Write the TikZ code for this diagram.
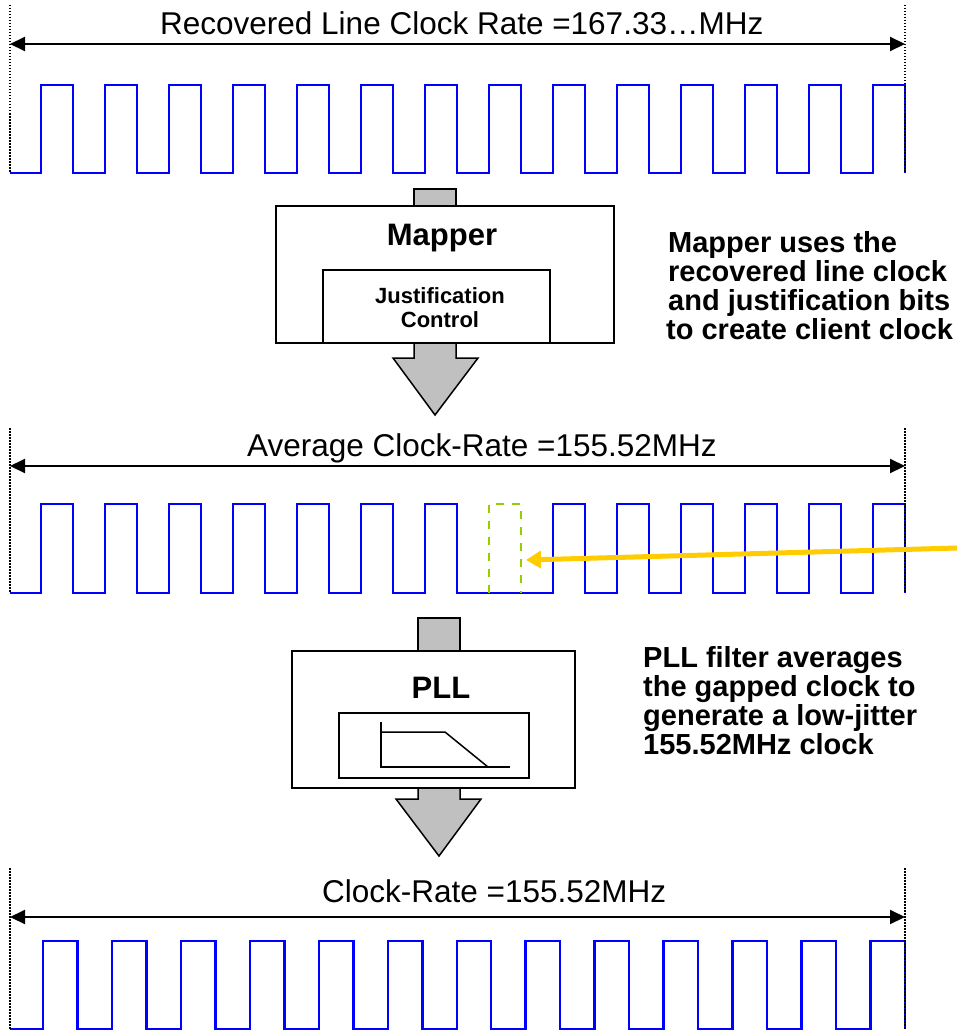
\documentclass[tikz,border=0pt]{standalone}
\usepackage{fontspec}
\setmainfont{Liberation Sans}
\usetikzlibrary{arrows.meta}
\definecolor{wavecol}{RGB}{0,0,255}
\definecolor{blockgray}{RGB}{192,192,192}
\definecolor{gapgreen}{RGB}{153,204,0}
\definecolor{pointercol}{RGB}{255,204,0}

\begin{document}
\begin{tikzpicture}[x=1pt,y=-1pt,
  clockwave/.style={draw=wavecol, line width=2.5pt, line join=miter},
  guide/.style={line width=1.5pt, dash pattern=on 1.5pt off 1.5pt},
  rangearrow/.style={line width=2pt,
    {Triangle[length=15pt,width=14pt]}-{Triangle[length=15pt,width=14pt]}},
  ratelabel/.style={anchor=base west, inner sep=0pt, font=\fontsize{31.5}{36}\selectfont},
  blockarrow/.style={fill=blockgray, draw=black, line width=1.5pt, line join=miter},
  blockbox/.style={draw=black, fill=white, line width=1.5pt, inner sep=0pt},
  boxtitle/.style={anchor=base, inner sep=0pt, font=\bfseries\fontsize{31}{36}\selectfont},
  boxsub/.style={anchor=base, inner sep=0pt, font=\bfseries\fontsize{22}{25}\selectfont},
  note/.style={anchor=base west, inner sep=0pt, font=\bfseries\fontsize{29}{29}\selectfont},
  gapmark/.style={draw=gapgreen, line width=2pt, dash pattern=on 8pt off 8pt},
  pointer/.style={draw=pointercol, line width=5pt,
    -{Triangle[length=15pt,width=17pt]}}
]
\useasboundingbox (0,0) rectangle (957,1030);

% ---------- recovered line clock ----------
\draw[clockwave] (10,173)
  foreach \k in {0,...,13} {
    -- ({41+64*\k},173) -- ({41+64*\k},85) -- ({73+64*\k},85) -- ({73+64*\k},173)
  };
\draw[guide] (10,5) -- (10,173);
\draw[guide] (905,5) -- (905,173);
\coordinate (r1l) at (10,44);
\coordinate (r1r) at (905,44);
\draw[rangearrow] (r1l) -- (r1r);
\node[ratelabel] (lbl1) at (160,35) {Recovered Line Clock Rate =167.33…MHz};

% ---------- mapper ----------
\draw[blockarrow] (414,206) -- (414,189) -- (456,189) -- (456,206);
\draw[blockarrow] (414,343) -- (414,358) -- (393,358) -- (435,415)
  -- (478,358) -- (456,358) -- (456,343);
\node[blockbox, minimum width=338pt, minimum height=137pt] (mapper) at (445,274.5) {};
\node[blockbox, minimum width=227pt, minimum height=73pt] (justif) at (436.5,306.5) {};
\node[boxtitle] (mappertxt) at (442,245) {Mapper};
\node[boxsub] (justtxt1) at (440,303) {Justification};
\node[boxsub] (justtxt2) at (440,327) {Control};

\node[note] (n1a) at (668,252) {Mapper uses the};
\node[note] (n1b) at (668,281) {recovered line clock};
\node[note] (n1c) at (668,310) {and justification bits};
\node[note] (n1d) at (666,339) {to create client clock};

% ---------- gapped clock ----------
\draw[clockwave] (10,593)
  foreach \k in {0,...,6,8,9,10,11,12,13} {
    -- ({41+64*\k},593) -- ({41+64*\k},504) -- ({73+64*\k},504) -- ({73+64*\k},593)
  };
\draw[gapmark] (489,593) -- (489,504) -- (521,504) -- (521,593);
\draw[guide] (10,428) -- (10,593);
\draw[guide] (905,428) -- (905,593);
\coordinate (r2l) at (10,466);
\coordinate (r2r) at (905,466);
\draw[rangearrow] (r2l) -- (r2r);
\node[ratelabel] (lbl2) at (247,456) {Average Clock-Rate =155.52MHz};

\coordinate (pointerstart) at (975,547.5);
\coordinate (gaptip) at (526,560);
\draw[pointer] (pointerstart) -- (gaptip);

% ---------- PLL ----------
\draw[blockarrow] (418,651) -- (418,618) -- (460,618) -- (460,651);
\draw[blockarrow] (418,788) -- (418,799) -- (396,799) -- (439,856)
  -- (481,799) -- (460,799) -- (460,788);
\node[blockbox, minimum width=283pt, minimum height=137pt] (pll) at (433.5,719.5) {};
\node[blockbox, minimum width=190pt, minimum height=65pt] (filterbox) at (434,745.5) {};
\node[boxtitle] (plltxt) at (441,698) {PLL};
\draw[line width=1.5pt] (381,722) -- (381,767) -- (510,767);
\draw[line width=1.5pt] (381,732) -- (445,732) -- (488,767);

\node[note] (n2a) at (643,667) {PLL filter averages};
\node[note] (n2b) at (643,696) {the gapped clock to};
\node[note] (n2c) at (643,725) {generate a low-jitter};
\node[note] (n2d) at (643,754) {155.52MHz clock};

% ---------- output clock ----------
\draw[clockwave] (10,1029)
  foreach \k in {0,...,12} {
    -- ({43+68.96*\k},1029) -- ({43+68.96*\k},941) -- ({77.48+68.96*\k},941)
    -- ({77.48+68.96*\k},1029)
  };
\draw[guide] (10,868) -- (10,1030);
\draw[guide] (905,868) -- (905,1030);
\coordinate (r3l) at (10,917);
\coordinate (r3r) at (905,917);
\draw[rangearrow] (r3l) -- (r3r);
\node[ratelabel] (lbl3) at (322,902) {Clock-Rate =155.52MHz};
\end{tikzpicture}
\end{document}
